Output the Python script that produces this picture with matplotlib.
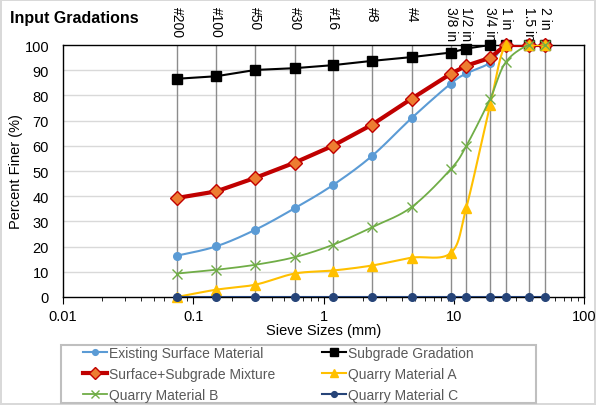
import numpy as np
import matplotlib
matplotlib.use("Agg")
import matplotlib.pyplot as plt
from matplotlib.lines import Line2D
from matplotlib.patches import Rectangle

plt.rcParams['font.family'] = ['Liberation Sans', 'DejaVu Sans']

# ---- data ----
sieve_labels = ["#200", "#100", "#50", "#30", "#16", "#8", "#4",
                "3/8 in", "1/2 in", "3/4 in", "1 in", "1.5 in", "2 in"]
sieve_mm = [0.075, 0.15, 0.3, 0.6, 1.18, 2.36, 4.75, 9.5, 12.5, 19.0, 25.0, 37.5, 50.0]

existing_surface = [16.4, 20.1, 26.7, 35.2, 44.4, 56.0, 71.0, 84.7, 88.7, 93.0, 100, 100, 100]
subgrade = [86.6, 87.6, 90.1, 90.8, 92.0, 93.7, 95.2, 97.0, 98.6, 100, 100, 100, 100]
mixture = [39.3, 41.9, 47.3, 53.3, 60.0, 68.4, 78.7, 88.6, 91.8, 94.9, 100, 100, 100]
quarry_a = [0.0, 2.9, 4.9, 9.3, 10.5, 12.5, 15.6, 17.5, 35.5, 76.0, 100, 100, 100]
quarry_b = [9.3, 10.8, 12.8, 15.8, 20.7, 27.7, 35.7, 50.8, 60.0, 78.6, 93.1, 100, 100]
quarry_c = [0, 0, 0, 0, 0, 0, 0, 0, 0, 0, 0, 0, 0]

y_ticks = list(range(0, 101, 10))
x_ticks = [0.01, 0.1, 1, 10, 100]
x_ticklabels = ["0.01", "0.1", "1", "10", "100"]


def smooth(xs, ys, n=30):
    """Catmull-Rom style smoothing in (log10 x, y) space (like Excel smoothed lines)."""
    u = np.log10(np.asarray(xs, float))
    v = np.asarray(ys, float)
    P = np.column_stack([u, v])
    m = len(P)
    out = []
    for i in range(m - 1):
        p0 = P[i - 1] if i > 0 else P[i]
        p1 = P[i]
        p2 = P[i + 1]
        p3 = P[i + 2] if i + 2 < m else P[i + 1]
        c1 = p1 + (p2 - p0) / 6.0
        c2 = p2 - (p3 - p1) / 6.0
        t = np.linspace(0, 1, n, endpoint=(i == m - 2))[:, None]
        b = ((1 - t) ** 3) * p1 + 3 * ((1 - t) ** 2) * t * c1 + 3 * (1 - t) * t ** 2 * c2 + t ** 3 * p2
        out.append(b)
    out = np.vstack(out)
    return 10 ** out[:, 0], out[:, 1]


W, H = 596, 406
fig = plt.figure(figsize=(W / 100, H / 100), dpi=100)
fig.patch.set_facecolor("white")
fig.patch.set_edgecolor("#D9D9D9")
fig.patch.set_linewidth(1.5)

ax = fig.add_axes([63 / W, 1 - 298 / H, 521 / W, 252 / H])
ax.set_xscale("log")
ax.set_xlim(0.01, 100)
ax.set_ylim(0, 100)

# horizontal gridlines
for yv in y_ticks[1:-1]:
    ax.axhline(yv, color="#D9D9D9", lw=1.0, zorder=0)

# sieve vertical lines and labels
for s, lab in zip(sieve_mm, sieve_labels):
    ax.axvline(s, color="#8C8C8C", lw=1.0, zorder=1)
    ax.text(s, 1.155, lab, rotation=270, ha="center", va="top",
            transform=ax.get_xaxis_transform(), fontsize=10, color="#000000")

series = [
    ("Existing Surface Material", existing_surface, dict(color="#5B9BD5", lw=1.5, marker="o", ms=5.5, mfc="#5B9BD5", mec="#5B9BD5"), True),
    ("Subgrade Gradation", subgrade, dict(color="#000000", lw=1.5, marker="s", ms=7.5, mfc="#000000", mec="#000000"), False),
    ("Surface+Subgrade Mixture", mixture, dict(color="#C00000", lw=3.0, marker="D", ms=7.5, mfc="#ED7D31", mec="#C00000", mew=1.0), False),
    ("Quarry Material A", quarry_a, dict(color="#FFC000", lw=1.5, marker="^", ms=7.5, mfc="#FFC000", mec="#FFC000"), True),
    ("Quarry Material B", quarry_b, dict(color="#70AD47", lw=1.3, marker="x", ms=7, mfc="none", mec="#70AD47", mew=1.0), True),
    ("Quarry Material C", quarry_c, dict(color="#264478", lw=1.5, marker="o", ms=5.5, mfc="#264478", mec="#264478"), False),
]

handles = {}
z = 3
for name, vals, st, sm in series:
    if sm:
        xs, ys = smooth(sieve_mm, vals)
    else:
        xs, ys = sieve_mm, vals
    ax.plot(xs, ys, color=st["color"], lw=st["lw"], zorder=z, solid_capstyle="round")
    ax.plot(sieve_mm, vals, ls="none", marker=st["marker"], ms=st["ms"],
            mfc=st["mfc"], mec=st["mec"], mew=st.get("mew", 1.0), zorder=z + 0.5, clip_on=False)
    handles[name] = Line2D([], [], color=st["color"], lw=st["lw"], marker=st["marker"],
                           ms=st["ms"] * 0.75, mfc=st["mfc"], mec=st["mec"], mew=st.get("mew", 1.0))
    z += 1

for sp in ax.spines.values():
    sp.set_color("#000000")
    sp.set_linewidth(1.0)

ax.set_yticks(y_ticks)
ax.set_xticks(x_ticks)
ax.set_xticklabels(x_ticklabels)
ax.tick_params(axis="y", length=0, labelsize=10.5, colors="#000000", pad=10)
ax.tick_params(axis="x", which="major", direction="out", length=5, labelsize=10.5, colors="#000000")
ax.tick_params(axis="x", which="minor", direction="out", length=3)

ax.set_xlabel("Sieve Sizes (mm)", fontsize=10.5, labelpad=0)
ax.set_ylabel("Percent Finer (%)", fontsize=10.5)
ax.yaxis.set_label_coords(-0.077, 0.5)

fig.text(0.017, 0.955, "Input Gradations", fontsize=11.5, fontweight="bold", ha="left", va="center")

# legend frame
fig.add_artist(Rectangle((61 / W, 1 - 404 / H), 475 / W, 58 / H, transform=fig.transFigure,
                         fill=False, edgecolor="#BFBFBF", lw=1.5))

order = ["Existing Surface Material", "Surface+Subgrade Mixture", "Quarry Material B",
         "Subgrade Gradation", "Quarry Material A", "Quarry Material C"]
leg = fig.legend([handles[k] for k in order], order, ncol=2,
                 loc="upper left", bbox_to_anchor=(83 / W, 1 - 347 / H),
                 fontsize=10, frameon=False,
                 handlelength=1.75, handletextpad=0.1, borderpad=0.0, labelspacing=0.5,
                 columnspacing=3.4, borderaxespad=0)
for t in leg.get_texts():
    t.set_color("#595959")

fig.savefig("out.png", dpi=100)
